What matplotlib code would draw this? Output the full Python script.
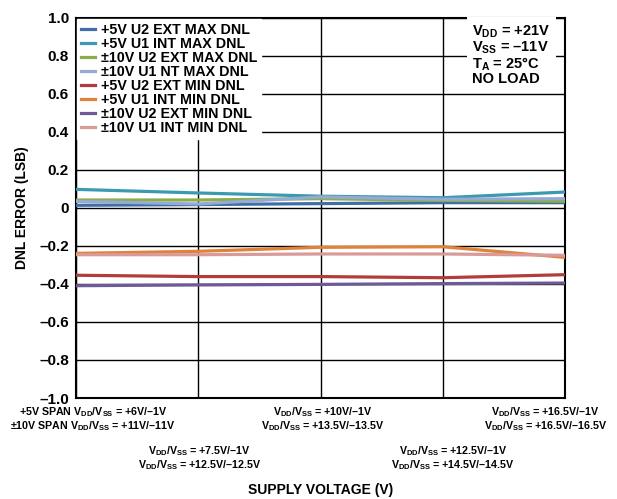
import numpy as np
import matplotlib
matplotlib.use('Agg')
import matplotlib.pyplot as plt

plt.rcParams['font.family'] = ['Liberation Sans', 'DejaVu Sans']
plt.rcParams['font.weight'] = 'bold'
plt.rcParams['mathtext.fontset'] = 'custom'
plt.rcParams['mathtext.rm'] = 'Liberation Sans:bold'
plt.rcParams['mathtext.it'] = 'Liberation Sans:bold'
plt.rcParams['mathtext.bf'] = 'Liberation Sans:bold'

# 数据：5 个电源电压点
x = np.arange(5)
names = ['+5V U2 EXT MAX DNL', '+5V U1 INT MAX DNL', '±10V U2 EXT MAX DNL',
         '±10V U1 NT MAX DNL', '+5V U2 EXT MIN DNL', '+5V U1 INT MIN DNL',
         '±10V U2 EXT MIN DNL', '±10V U1 INT MIN DNL']
u5_u2_max = [0.014, 0.018, 0.023, 0.028, 0.028]
u5_u1_max = [0.098, 0.079, 0.062, 0.054, 0.084]
u10_u2_max = [0.042, 0.042, 0.049, 0.040, 0.035]
u10_u1_max = [0.035, 0.021, 0.058, 0.046, 0.049]
u5_u2_min = [-0.354, -0.361, -0.361, -0.367, -0.351]
u5_u1_min = [-0.239, -0.228, -0.207, -0.204, -0.260]
u10_u2_min = [-0.409, -0.405, -0.402, -0.398, -0.395]
u10_u1_min = [-0.246, -0.246, -0.242, -0.242, -0.249]
series = [u5_u2_max, u5_u1_max, u10_u2_max, u10_u1_max,
          u5_u2_min, u5_u1_min, u10_u2_min, u10_u1_min]
colors = ['#3f6ea8', '#3b9ab2', '#8bad4b', '#96aad4',
          '#b23c3a', '#e0823a', '#6e5a98', '#d99b9a']

# 横轴标签（两行）
vdd = r'$\mathregular{V_{DD}/V_{SS}}$'
xlabels = ['+5V SPAN ' + vdd + ' = +6V/–1V\n±10V SPAN ' + vdd + ' = +11V/–11V',
           vdd + ' = +7.5V/–1V\n' + vdd + ' = +12.5V/–12.5V',
           vdd + ' = +10V/–1V\n' + vdd + ' = +13.5V/–13.5V',
           vdd + ' = +12.5V/–1V\n' + vdd + ' = +14.5V/–14.5V',
           vdd + ' = +16.5V/–1V\n' + vdd + ' = +16.5V/–16.5V']
xoffsets = [17, 1, 2, 10, -20]
ydrops = [7, 46, 7, 46, 7]

yticks = np.round(np.arange(-1.0, 1.01, 0.2), 1)
ylabels = ['0' if v == 0 else ('%.1f' % v).replace('-', '–') for v in yticks]

fig = plt.figure(figsize=(6.17, 4.99), dpi=100)
ax = fig.add_axes([0.123, 0.2024, 0.793, 0.7616])

for s, c, n in zip(series, colors, names):
    ax.plot(x, s, color=c, lw=2.3, label=n, zorder=3)

ax.set_xlim(0, 4)
ax.set_ylim(-1, 1)
ax.set_xticks(x)
ax.set_xticklabels([])
ax.set_yticks(yticks)
ax.set_yticklabels(ylabels, fontsize=11, fontweight='bold')
ax.tick_params(length=0, pad=5)
ax.grid(True, color='black', lw=1.0, zorder=1)
for sp in ax.spines.values():
    sp.set_linewidth(1.5)

for xi, lab, dx, dy in zip(x, xlabels, xoffsets, ydrops):
    ax.annotate(lab, xy=(xi, -1), xycoords='data', xytext=(dx, -dy),
                textcoords='offset pixels', ha='center', va='top',
                fontsize=7.7, fontweight='bold', linespacing=1.0)

ax.set_xlabel('SUPPLY VOLTAGE (V)', fontsize=10, fontweight='bold', labelpad=56)
ax.set_ylabel('DNL ERROR (LSB)', fontsize=10, fontweight='bold', labelpad=7)

leg = ax.legend(loc='upper left', frameon=True, fancybox=False, framealpha=1,
                edgecolor='white', borderpad=0.25, labelspacing=0.0,
                handlelength=1.0, handletextpad=0.4, borderaxespad=0.1,
                prop={'weight': 'bold', 'size': 10.3})
leg.set_zorder(5)

ax.text(0.81, 0.985, r'$\mathregular{V_{DD}}$ = +21V' + '\n' +
        r'$\mathregular{V_{SS}}$ = –11V' + '\n' +
        r'$\mathregular{T_A}$ = 25°C' + '\nNO LOAD',
        transform=ax.transAxes, ha='left', va='top', fontsize=10.5,
        fontweight='bold', linespacing=0.95, zorder=5,
        bbox=dict(facecolor='white', edgecolor='none', pad=4))

fig.savefig('out.png', dpi=100)
